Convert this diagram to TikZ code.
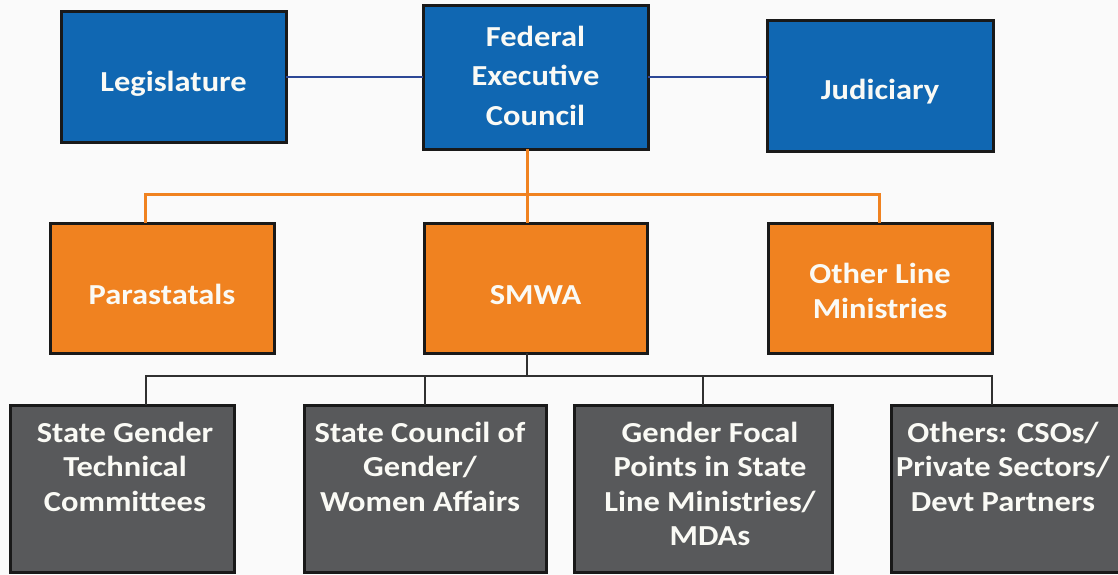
\documentclass[tikz,border=0pt]{standalone}
\usepackage{fontspec}
\newfontfamily\calfont[FakeStretch=1.12]{Carlito}
\definecolor{boxblue}{RGB}{16,103,178}
\definecolor{boxorange}{RGB}{240,130,32}
\definecolor{boxgray}{RGB}{88,89,91}
\definecolor{navyline}{RGB}{45,72,150}
\definecolor{edge}{RGB}{25,25,25}
\definecolor{txt}{RGB}{250,250,245}
\begin{document}
\begin{tikzpicture}[x=1pt,y=-1pt,
  box/.style={draw=edge,line width=3pt,inner sep=0pt,outer sep=0pt,rectangle},
  bluebox/.style={box,fill=boxblue},
  orangebox/.style={box,fill=boxorange},
  graybox/.style={box,fill=boxgray},
  lbl/.style={anchor=base,align=center,inner sep=0pt,text=txt,font=\calfont\bfseries\fontsize{29}{34.5}\selectfont},
  lblwide/.style={lbl,font=\calfont\bfseries\fontsize{29}{39}\selectfont},
  bline/.style={draw=navyline,line width=2.8pt},
  oline/.style={draw=boxorange,line width=3pt},
  kline/.style={draw=edge!90,line width=2.8pt}]
\fill[white!98!black] (0,0) rectangle (1118,575);
\useasboundingbox (0,0) rectangle (1118,575);
% top row
\node[bluebox,minimum width=225,minimum height=130] (leg) at (173.5,77) {};
\node[bluebox,minimum width=225,minimum height=143] (fec) at (535.5,77.5) {};
\node[bluebox,minimum width=226,minimum height=130] (jud) at (880,86) {};
\node[lbl] (legt) at (173.5,92) {Legislature};
\node[lblwide] (fect) at (535.5,125) {Federal\\Executive\\Council};
\node[lbl] (judt) at (880,100) {Judiciary};
% middle row
\node[orangebox,minimum width=224,minimum height=130] (para) at (162,288) {};
\node[orangebox,minimum width=223,minimum height=130] (smwa) at (535.5,288) {};
\node[orangebox,minimum width=224,minimum height=130] (olm) at (880,288) {};
\node[lbl] (parat) at (162,304) {Parastatals};
\node[lbl] (smwat) at (535.5,304) {SMWA};
\node[lbl] (olmt) at (880,318) {Other Line\\Ministries};
% bottom row
\node[graybox,minimum width=224,minimum height=167] (b1) at (122,488.5) {};
\node[graybox,minimum width=242,minimum height=167] (b2) at (425,488.5) {};
\node[graybox,minimum width=258,minimum height=167] (b3) at (703,488.5) {};
\node[graybox,minimum width=228,minimum height=167] (b4) at (1005,488.5) {};
\node[lbl] (b1t) at (125,511) {State Gender\\Technical\\Committees};
\node[lbl] (b2t) at (420,511) {State Council of\\Gender/\\Women Affairs};
\node[lbl] (b3t) at (710,545.5) {Gender Focal\\Points in State\\Line Ministries/\\MDAs};
\node[lbl] (b4t) at (1003,511) {Others: CSOs/\\Private Sectors/\\Devt Partners};
% connectors
\draw[bline] (leg.east |- 0,77) -- (fec.west |- 0,77);
\draw[bline] (fec.east |- 0,77) -- (jud.west |- 0,77);
\coordinate (oc) at (527,194);
\coordinate (ol) at (145,194);
\coordinate (or) at (879,194);
\draw[oline] (fec.south -| oc) -- (smwa.north -| oc);
\draw[oline] (para.north -| ol) -- (ol) -- (or) -- (olm.north -| or);
\coordinate (kc) at (527,376);
\coordinate (k1) at (146,376);
\coordinate (k2) at (425,376);
\coordinate (k3) at (703,376);
\coordinate (k4) at (992,376);
\draw[kline] (smwa.south -| kc) -- (kc);
\draw[kline] (b1.north -| k1) -- (k1) -- (k4) -- (b4.north -| k4);
\draw[kline] (k2) -- (b2.north -| k2);
\draw[kline] (k3) -- (b3.north -| k3);
\end{tikzpicture}
\end{document}
